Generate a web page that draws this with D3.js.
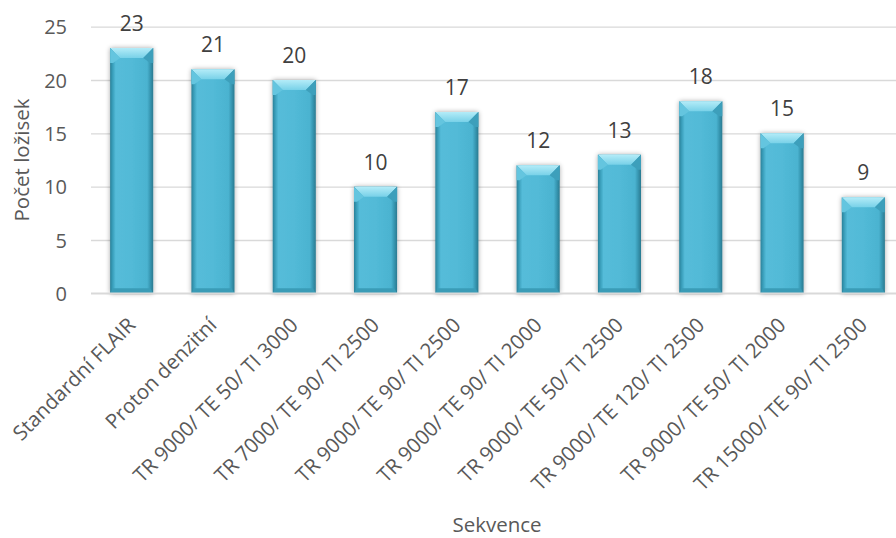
<!DOCTYPE html>
<html>
<head>
<meta charset="utf-8">
<script src="https://cdn.jsdelivr.net/npm/d3@7"></script>
<style>
  html, body { margin: 0; padding: 0; background: #fff; }
  svg { display: block; font-family: "Open Sans", "DejaVu Sans", sans-serif; }
</style>
</head>
<body>
<svg id="chart" width="896" height="538"></svg>
<script>
// Sequence names and lesion counts
const categories = [
  "Standardní FLAIR",
  "Proton denzitní",
  "TR 9000/ TE 50/ TI 3000",
  "TR 7000/ TE 90/ TI 2500",
  "TR 9000/ TE 90/ TI 2500",
  "TR 9000/ TE 90/ TI 2000",
  "TR 9000/ TE 50/ TI 2500",
  "TR 9000/ TE 120/ TI 2500",
  "TR 9000/ TE 50/ TI 2000",
  "TR 15000/ TE 90/ TI 2500"
];
const counts = [23, 21, 20, 10, 17, 12, 13, 18, 15, 9];
const yTicks = [0, 5, 10, 15, 20, 25];
const yTitle = "Počet ložisek";
const xTitle = "Sekvence";

const svg = d3.select("#chart");
const textColor = "#595959";
const gridColor = "#d9d9d9";
const fontFamily = "'Open Sans', sans-serif";

const x = d3.scaleBand()
  .domain(categories)
  .range([91, 904])
  .paddingInner(0.47)
  .paddingOuter(0.235);

const y = d3.scaleLinear().domain([0, 25]).range([293.3, 26.7]);

// Gradients and shadow for the bevelled bars
const defs = svg.append("defs");
const body = defs.append("linearGradient").attr("id", "barBody")
  .attr("x1", "0").attr("x2", "1").attr("y1", "0").attr("y2", "0");
[[0, "#2b8199"], [0.06, "#3a9fbb"], [0.13, "#55bcd9"], [0.5, "#52bad7"],
 [0.86, "#4bb3d0"], [0.93, "#3797b2"], [1, "#2a7a90"]]
  .forEach(([o, c]) => body.append("stop").attr("offset", o).attr("stop-color", c));

const cap = defs.append("linearGradient").attr("id", "barCap")
  .attr("x1", "0").attr("x2", "0").attr("y1", "0").attr("y2", "1");
[[0, "#b4ecf8"], [1, "#78d1e8"]]
  .forEach(([o, c]) => cap.append("stop").attr("offset", o).attr("stop-color", c));

const shadow = defs.append("filter").attr("id", "barShadow")
  .attr("x", "-30%").attr("y", "-10%").attr("width", "160%").attr("height", "120%");
shadow.append("feGaussianBlur").attr("in", "SourceAlpha").attr("stdDeviation", 2.4).attr("result", "b");
shadow.append("feComponentTransfer").attr("in", "b").attr("result", "s")
  .append("feFuncA").attr("type", "linear").attr("slope", 0.35);
const merge = shadow.append("feMerge");
merge.append("feMergeNode").attr("in", "s");
merge.append("feMergeNode").attr("in", "SourceGraphic");

// Horizontal gridlines and value ticks
const yAxis = d3.axisLeft(y).tickValues(yTicks).tickSize(0).tickPadding(0);
const gy = svg.append("g").attr("transform", "translate(91,0)").call(yAxis);
gy.select(".domain").remove();
gy.selectAll(".tick line").remove();
gy.selectAll(".tick").append("line")
  .attr("x1", 0).attr("x2", 896 - 91)
  .attr("stroke", gridColor).attr("stroke-width", 1.3);
gy.selectAll(".tick text")
  .attr("x", -24).attr("dy", "0.36em")
  .attr("fill", textColor).style("font-size", "20px")
  .style("font-family", fontFamily);

// Bars
const bars = svg.append("g").selectAll("g.bar")
  .data(categories.map((c, i) => ({ c, v: counts[i] })))
  .join("g").attr("class", "bar");

const bw = x.bandwidth();
bars.append("rect")
  .attr("x", d => x(d.c))
  .attr("y", d => y(d.v))
  .attr("width", bw)
  .attr("height", d => y(0) - y(d.v))
  .attr("fill", "url(#barBody)")
  .attr("filter", "url(#barShadow)");

// top bevel
const capH = 10, inset = 10;
bars.append("path")
  .attr("d", d => {
    const x0 = x(d.c), x1 = x0 + bw, t = y(d.v);
    return `M${x0},${t}L${x1},${t}L${x1 - inset},${t + capH}L${x0 + inset},${t + capH}Z`;
  })
  .attr("fill", "url(#barCap)");
// side bevels under the cap corners
bars.append("path")
  .attr("d", d => {
    const x0 = x(d.c), t = y(d.v);
    return `M${x0},${t}L${x0 + inset},${t + capH}L${x0 + 3},${t + capH + 5}L${x0},${t + capH + 5}Z`;
  })
  .attr("fill", "#64c5df");
bars.append("path")
  .attr("d", d => {
    const x1 = x(d.c) + bw, t = y(d.v);
    return `M${x1},${t}L${x1 - inset},${t + capH}L${x1 - 3},${t + capH + 5}L${x1},${t + capH + 5}Z`;
  })
  .attr("fill", "#3d9fbb");
// bottom bevel
bars.append("path")
  .attr("d", d => {
    const x0 = x(d.c), x1 = x0 + bw, b = y(0);
    return `M${x0 + 3},${b - 5}L${x1 - 3},${b - 5}L${x1},${b}L${x0},${b}Z`;
  })
  .attr("fill", "#3a9cb7");

// Value labels
bars.append("text")
  .attr("x", d => x(d.c) + bw / 2)
  .attr("y", d => y(d.v) - 17)
  .attr("text-anchor", "middle")
  .attr("fill", "#404040")
  .style("font-size", "21px")
  .text(d => d3.format("d")(d.v));

// Bottom axis line
svg.append("line")
  .attr("x1", 91).attr("x2", 896)
  .attr("y1", y(0)).attr("y2", y(0))
  .attr("stroke", gridColor).attr("stroke-width", 1.5);

// Category labels, rotated
const xAxis = d3.axisBottom(x).tickSize(0).tickPadding(0);
const gx = svg.append("g").attr("transform", `translate(0,${y(0)})`).call(xAxis);
gx.select(".domain").remove();
gx.selectAll(".tick text")
  .attr("text-anchor", "end")
  .attr("fill", textColor)
  .style("font-size", "20.5px")
  .style("font-family", fontFamily)
  .attr("transform", "translate(0,28) rotate(-45)")
  .attr("x", 0).attr("y", 0).attr("dy", "0.35em");

// Axis titles
svg.append("text")
  .attr("transform", `translate(22,${(y(0) + y(25)) / 2}) rotate(-90)`)
  .attr("text-anchor", "middle")
  .attr("dy", "0.35em")
  .attr("fill", textColor)
  .style("font-size", "20.5px")
  .text(yTitle);

svg.append("text")
  .attr("x", 497).attr("y", 532)
  .attr("text-anchor", "middle")
  .attr("fill", textColor)
  .style("font-size", "20.5px")
  .text(xTitle);
</script>
</body>
</html>
